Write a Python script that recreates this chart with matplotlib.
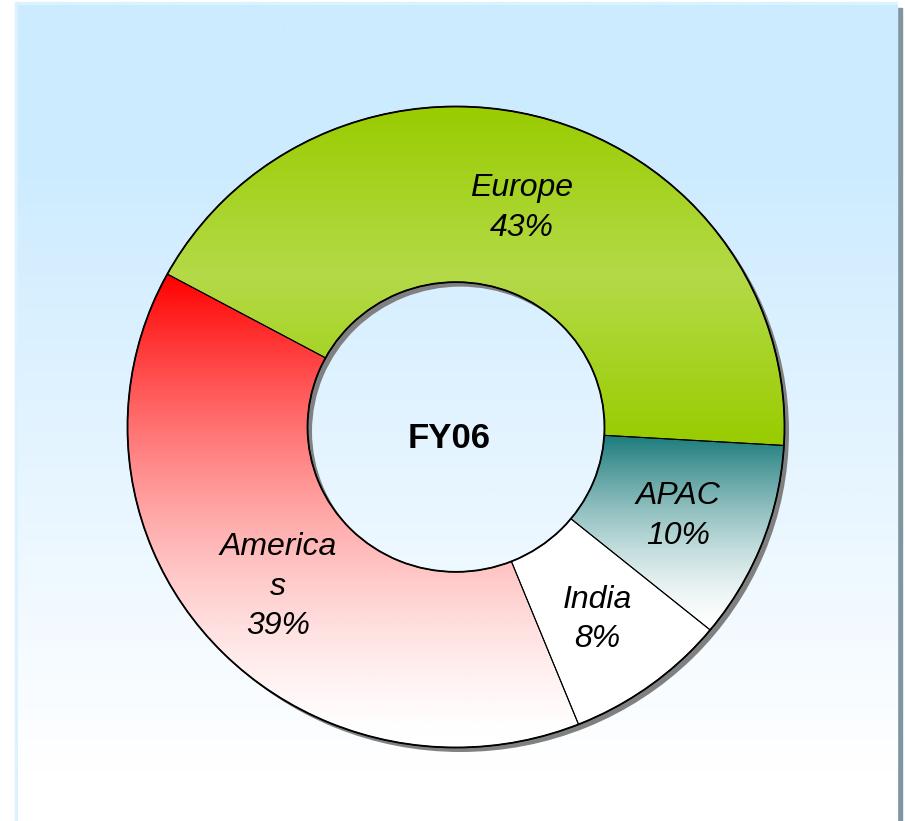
import numpy as np
import matplotlib
matplotlib.use('Agg')
import matplotlib.pyplot as plt
import matplotlib.transforms as mtransforms
from matplotlib.colors import LinearSegmentedColormap
from matplotlib.patches import Rectangle, Annulus

# dados do gráfico
regioes = ['Europe', 'Americas', 'India', 'APAC']
rotulos = ['Europe', 'America\ns', 'India', 'APAC']
percentuais = [43, 39, 8, 10]
titulo_centro = 'FY06'

# cores (gradientes de cada fatia)
gradientes = {
    'Europe': ['#99CC00', '#B4DA48', '#99CC00'],
    'Americas': ['#FF0000', '#FFFFFF'],
    'India': ['#FFFFFF', '#FFFFFF'],
    'APAC': ['#1C7C7C', '#FFFFFF'],
}

W, H = 905, 821
fig = plt.figure(figsize=(W / 100, H / 100), dpi=100)
fig.patch.set_facecolor('white')

# fundo do painel (coordenadas em pixels)
bg = fig.add_axes([0, 0, 1, 1])
bg.axis('off')
bg.add_patch(Rectangle((897, 8), 5, H, color='#7F96A0', zorder=0))
bg.add_patch(Rectangle((15, 2), 882, H, color='#DDF2FF', zorder=1))
yy = np.arange(H)
t = np.clip((yy - 150) / 620, 0, 1)
topo = np.array([204, 235, 255]) / 255
grad = topo[None, :] * (1 - t[:, None]) + t[:, None]
bg.imshow(grad[:, None, :], extent=(18, 897, H, 5), aspect='auto',
          interpolation='bilinear', zorder=2)
bg.set_xlim(0, W)
bg.set_ylim(H, 0)

# eixo da rosca (levemente elíptica como no original)
cx, cy = 456, 427
rx, ry = 328.5, 320.5
ax = fig.add_axes([(cx - 1.1 * rx) / W, (H - cy - 1.1 * ry) / H, 2.2 * rx / W, 2.2 * ry / H])

largura = 0.548
wedges, _ = ax.pie(percentuais, startangle=-3.3, counterclock=True, radius=1,
                   colors=['none'] * len(percentuais),
                   wedgeprops=dict(width=largura, edgecolor='black', linewidth=0.75))

# sombra
sombra = Annulus((0, 0), 1, largura, facecolor='#808080', edgecolor='none', zorder=0.5)
sombra.set_transform(ax.transData + mtransforms.ScaledTranslation(0.045, -0.045, fig.dpi_scale_trans))
sombra.set_clip_on(False)
ax.add_patch(sombra)

for w, nome in zip(wedges, regioes):
    w.set_zorder(2)
    ext = w.get_path().get_extents()
    cmap = LinearSegmentedColormap.from_list(nome, gradientes[nome])
    if nome in ('Americas', 'APAC'):
        v = 1 - (1 - np.linspace(0, 1, 256)) ** 1.5
    else:
        v = np.linspace(0, 1, 256)
    img = cmap(v)[:, None, :]
    im = ax.imshow(img, extent=(ext.x0, ext.x1, ext.y0, ext.y1), origin='upper',
                   aspect='auto', interpolation='bilinear', zorder=1)
    im.set_clip_path(w)

contorno = Annulus((0, 0), 1, largura, facecolor='none', edgecolor='black', linewidth=1.3, zorder=3)
ax.add_patch(contorno)

# rótulos das fatias
r_meio = 1 - largura / 2
for w, rot, p in zip(wedges, rotulos, percentuais):
    ang = np.deg2rad((w.theta1 + w.theta2) / 2)
    ax.text(r_meio * np.cos(ang), r_meio * np.sin(ang) - 0.015, f'{rot}\n{p}%',
            ha='center', va='center', fontsize=23, style='italic',
            family='Liberation Sans', linespacing=1.42, zorder=4)

ax.text(-0.02, -0.035, titulo_centro, ha='center', va='center', fontsize=25,
        fontweight='bold', family='Liberation Sans', zorder=4)

ax.set_aspect('auto')
ax.set_xlim(-1.1, 1.1)
ax.set_ylim(-1.1, 1.1)
ax.set_axis_off()

fig.savefig('out.png', dpi=100)
